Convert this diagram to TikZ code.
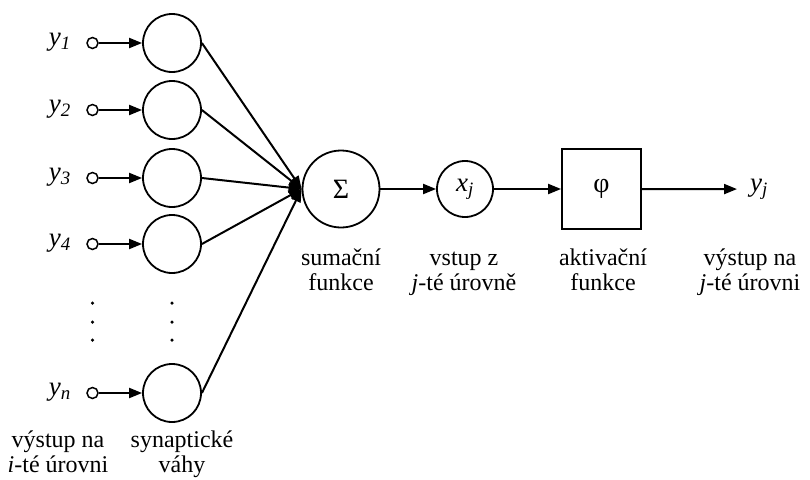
\documentclass[tikz,border=0pt]{standalone}
\usepackage{fontspec}
\setmainfont{Liberation Serif}
\usetikzlibrary{arrows.meta}

\newcommand{\outvar}[2]{\textit{#1}\textsubscript{\textit{#2}}}

\begin{document}
\begin{tikzpicture} [
    x=1pt, y=-1pt,
    font=\fontsize{24}{25}\selectfont,
    weight/.style   = { circle, draw, line width=1.8pt, minimum size=58pt, inner sep=0pt },
    input/.style    = { circle, draw, line width=1.5pt, minimum size=11pt, inner sep=0pt },
    block/.style    = { rectangle, draw, line width=1.8pt, minimum width=79pt,
                        minimum height=80pt },
    caption/.style  = { align=center, anchor=base },
    var/.style      = { inner sep=0pt, font=\fontsize{27}{29}\selectfont },
    line/.style     = { draw, line width=2pt, -{Triangle[length=13pt,width=10pt]} },
    dot/.style      = { circle, fill, minimum size=3.5pt, inner sep=0pt },
  ]
  \useasboundingbox (0,0) rectangle (810,479);

  % inputs and synaptic weights
  \foreach \i/\ypos in {1/43,2/110,3/178,4/244,n/393} {
    \node[weight] (w\i) at (172,\ypos) {};
    \node[input] (in\i) at (92.5,\ypos) {};
    \node[var, anchor=mid east] (y\i) at (71,\ypos) {\outvar{y}{\i}};
  }
  \foreach \k/\ypos in {1/303,2/322,3/340} {
    \node[dot] (din\k) at (92.5,\ypos) {};
    \node[dot] (dw\k) at (172,\ypos) {};
  }

  % neuron body
  \node[weight, minimum size=77pt, font=\fontsize{28}{30}\selectfont] (sum) at (341,189) {Σ};
  \node[weight, var, minimum size=56pt] (xj) at (465,189) {\outvar{x}{j}};
  \node[block, font=\fontsize{28}{30}\selectfont] (act) at (601.5,189) {φ};
  \node[var, anchor=mid west] (yj) at (750,189) {\outvar{y}{j}};

  % captions (anchored on the last line)
  \node[caption] (lout) at (58,472)  {výstup na\\\textit{i}-té úrovni};
  \node[caption] (lsyn) at (182,472) {synaptické\\váhy};
  \node[caption] (lsum) at (341,290) {sumační\\funkce};
  \node[caption] (lin)  at (464,290) {vstup z\\\textit{j}-té úrovně};
  \node[caption] (lact) at (603,290) {aktivační\\funkce};
  \node[caption] (lres) at (750,290) {výstup na\\\textit{j}-té úrovni};

  % connect the nodes
  \foreach \i in {1,2,3,4,n} {
    \path [line] (in\i) -- (w\i);
    \path [line] (w\i.east) -- (sum.west);
  }
  \path [line] (sum) -- (xj);
  \path [line] (xj) -- (act);
  \path [line, shorten >=13pt] (act) -- (yj.west);
\end{tikzpicture}
\end{document}
